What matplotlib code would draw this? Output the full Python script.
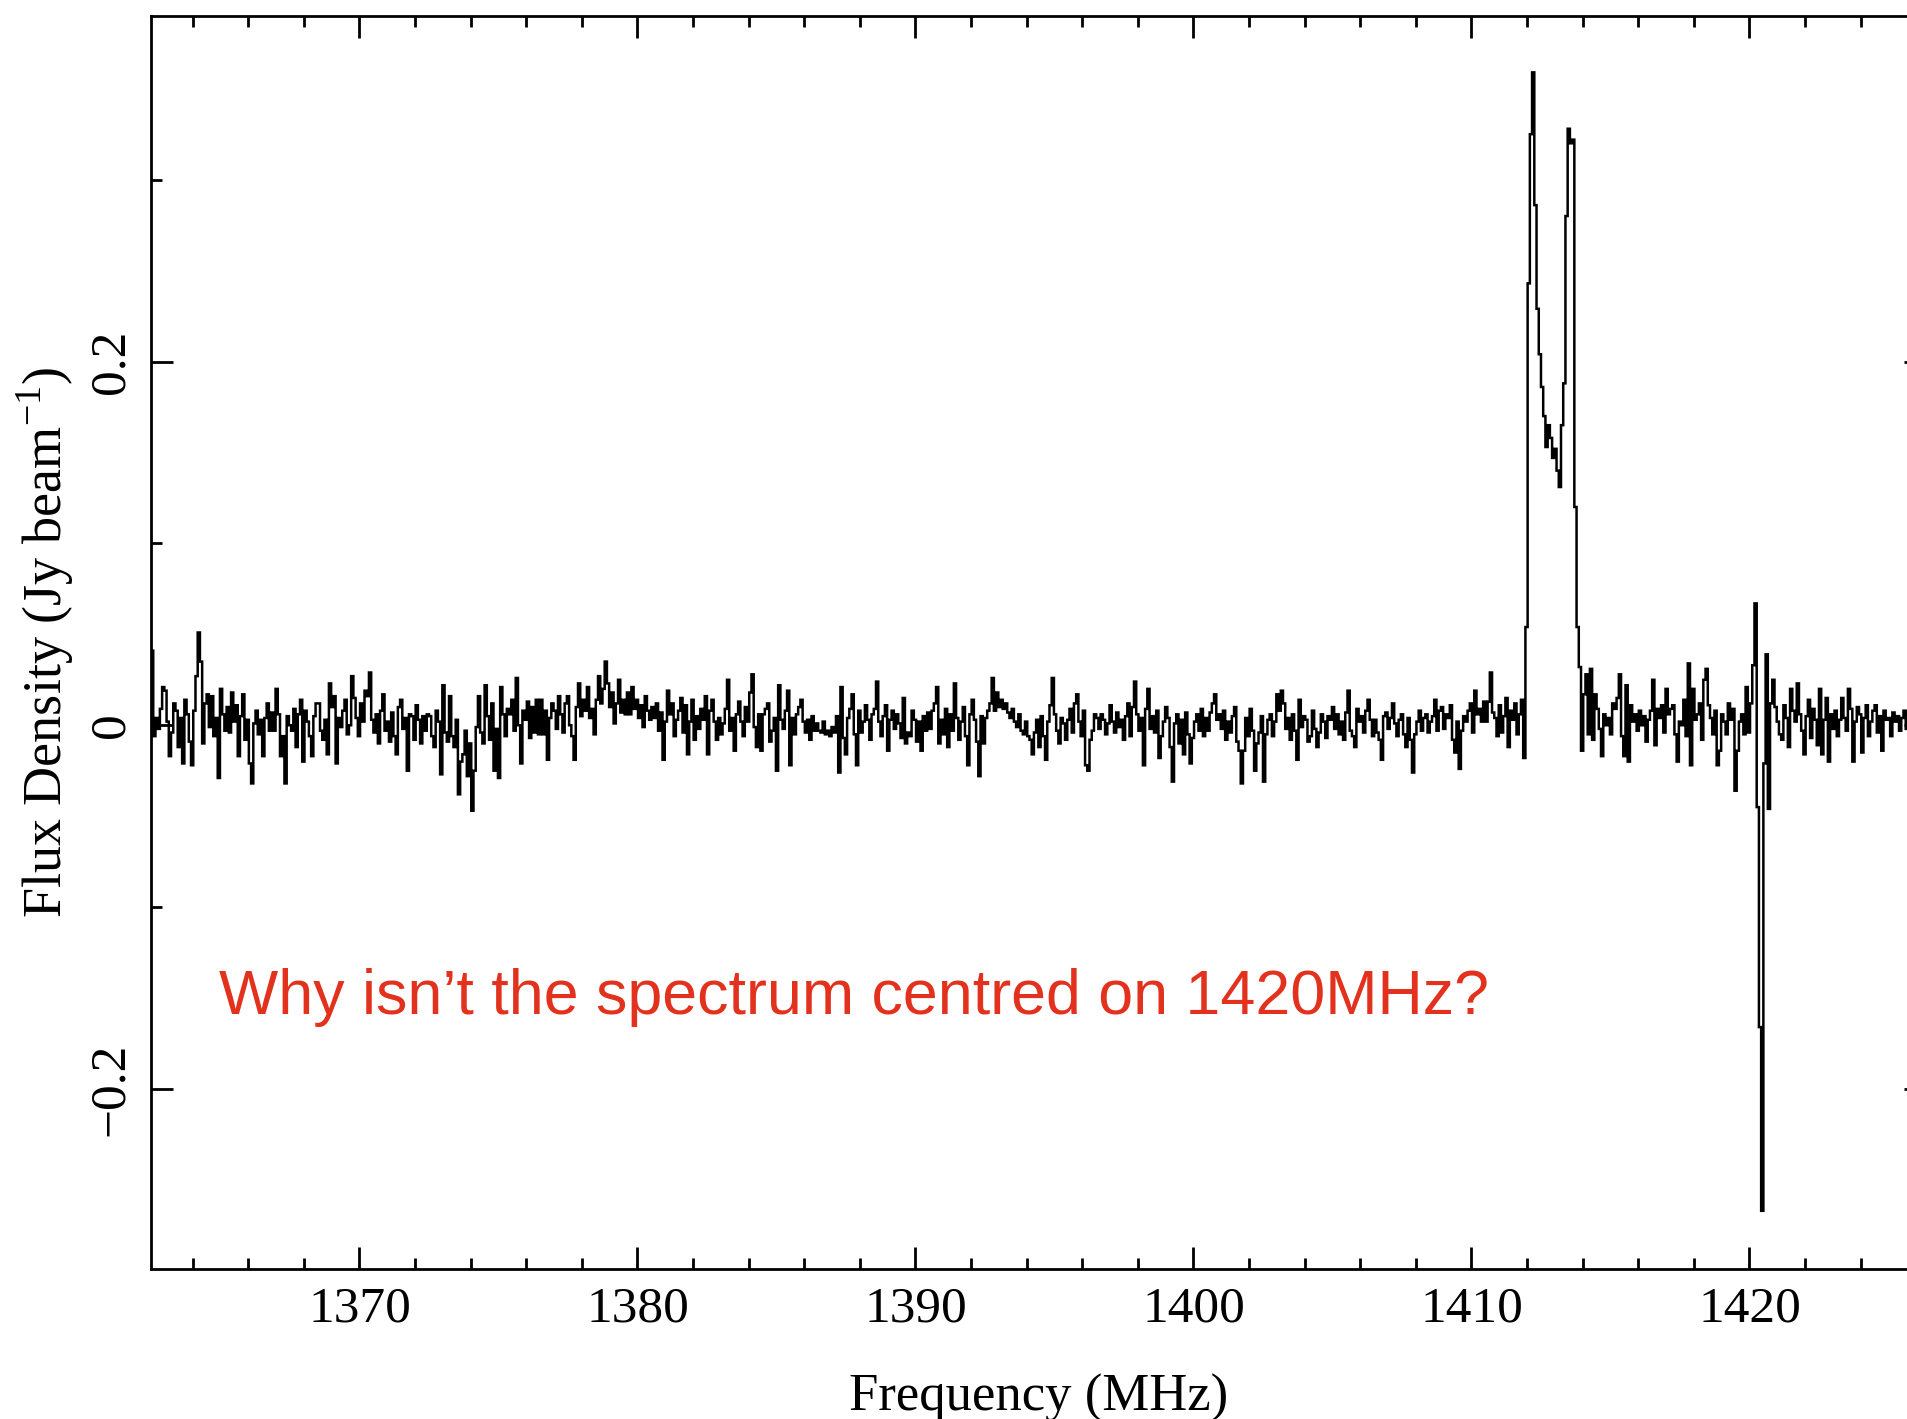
import numpy as np
import matplotlib
matplotlib.use('Agg')
import matplotlib.pyplot as plt
from matplotlib.ticker import MultipleLocator, FuncFormatter

# spectrum: channel grid (MHz)
freq_start = 1362.5
chan_width = 0.08

# flux density per channel, mJy/beam (25 channels = 2 MHz per row)
flux_mjy = [
    41, -6, 4, -2, 9, 21, 19, 2, -17, -4, 12, 8, -12, 4, -21, 14, 6, -9, -22, 8, 27, 51, 35, -10, 12,
    17, -1, 16, -6, 4, -29, 20, 6, -3, 10, -4, 18, 2, 11, -17, 5, 17, -8, 3, -21, -32, 1, 8, -5, 3,
    -17, 4, 12, -3, 7, -3, 20, 6, -17, -6, -32, 5, 0, -3, 9, -12, 6, 14, -20, 8, 2, -6, -17, 5, 12,
    12, -3, -8, 3, -16, 23, 10, 16, -21, 4, -1, 8, 14, -5, 0, 27, 15, 4, -6, 12, 2, 19, 16, 29, 3,
    -4, 6, -10, 8, 17, -3, 2, -9, 7, -6, -16, 10, 14, -2, 4, -25, 6, 5, -8, 11, 3, -10, 5, -3, 6,
    5, -6, -12, 8, 2, -27, 22, -4, -9, 16, -6, -12, 3, -38, -20, -16, -3, -28, -10, -47, -25, -1, 16, -4, -10,
    22, 5, -8, 12, -25, -2, -29, 21, 6, -6, 9, 6, 14, -3, 26, 0, -21, 8, 3, 13, -7, 10, -4, 14, -5,
    14, -5, 8, -19, 4, 12, 8, -2, 16, 6, -4, 12, 16, 0, -6, -19, 10, 23, 5, 14, 8, 21, 4, 9, -5,
    14, 27, 12, 20, 35, 23, 10, 18, 1, 12, 25, 7, 14, 6, 18, 6, 21, 9, 14, 4, 11, -1, 16, 8, 3,
    10, 4, 12, -3, 7, -19, 2, 19, 6, 12, -6, 3, 8, 15, -4, 11, -16, 2, 14, -8, 5, -2, 9, 3, 16,
    -16, 8, 14, 2, -8, 4, -5, 1, 9, 25, -3, 4, -14, 6, 13, 2, -6, 10, 2, 18, 28, -1, -12, 6, -14,
    6, 9, 12, -9, -3, 4, -25, 22, 3, -2, 8, 19, -22, 4, -5, 6, 10, 14, 2, -4, 3, -8, 5, -3, 1,
    -3, -4, 2, -5, -3, -6, -1, -4, 5, -26, 21, -7, -16, 4, 9, 17, -5, -22, 8, -4, 2, 11, 3, -8, 6,
    9, 24, 2, -6, 5, 11, -14, 3, 8, -2, 6, 1, -7, 15, -10, -4, -6, 8, 3, -9, 2, -14, 5, -3, 7,
    -2, 8, 12, 21, -10, 3, -5, 9, -12, 6, -3, 23, 4, -8, 2, 10, -6, -22, 6, 14, 3, -9, -28, 5, -10,
    4, 8, 12, 26, 8, 18, 10, 14, 9, 12, 7, 4, 9, 2, -1, 6, -3, -5, 2, -6, -8, -16, -4, 3, -12,
    5, -6, -19, 2, 11, 26, 6, -3, -10, 4, 1, -8, 3, 9, -4, 12, 17, 2, -6, 8, -22, -25, -8, -3, 6,
    4, -2, 6, 3, -5, 1, 11, 2, -4, 7, -1, 3, -8, 5, 12, -6, 10, 24, 6, -3, 4, -22, 9, 20, -2,
    5, -4, 8, -18, -6, 2, 10, 4, -12, -31, 1, 6, -10, 3, -16, 7, -5, -21, -7, 2, 6, -3, 9, -6, 4,
    -3, 7, 12, 17, 3, 6, -2, 8, -8, 2, -4, 5, 10, -9, -14, -32, -14, 4, -6, 9, -3, -25, -10, -4, 5,
    -31, -5, 3, 6, -6, 2, 17, 8, 19, 12, -2, 4, -8, 6, -3, -19, 14, -1, 5, 3, -9, -6, 8, -2, -12,
    -4, 6, 2, -7, 5, 3, 10, -2, 6, -5, 2, -8, 7, 19, -3, -6, -12, 9, 2, 5, -4, 8, 14, 3, -6,
    3, -4, -8, -19, 5, 7, -2, 4, 12, 1, -6, 3, 6, -5, -12, 4, -8, -26, -5, 2, 8, -3, 4, 6, -4,
    2, 5, 14, -3, 8, 10, -2, 6, 4, 11, -8, -15, 2, -24, -3, 5, 2, 8, 12, -4, 19, 6, 9, 2, 13,
    2, 13, 29, 7, 4, -6, 11, -4, 5, 15, -12, 8, 3, 12, -5, 6, 14, -18, 54, 243, 325, 359, 286, 229, 204,
    186, 170, 153, 165, 158, 147, 152, 140, 131, 165, 188, 280, 328, 320, 322, 120, 54, 32, -14, 17, 28, -5, 31, -8, 17,
    9, -2, -17, 6, 0, 4, -5, 12, 9, 15, 28, -6, -17, 22, -20, 11, 2, 6, -3, 8, 0, 5, -9, 3, 8,
    25, -11, 9, 4, 11, -4, 20, 6, 9, 11, -5, -20, 2, 0, 14, -6, 34, -22, 20, 3, 6, 12, -8, 25, 31,
    11, 4, -5, 8, -22, -14, 6, 2, -5, 12, 3, 9, -36, -14, 2, 6, -5, 21, -4, 12, 33, 67, -45, -166, -267,
    -21, 39, -46, 12, 25, 10, 2, -5, -8, 11, 4, -12, 20, 8, 2, 23, 6, -3, -16, 5, 14, -7, 9, 3, -11,
    20, -16, 3, 15, -20, 6, -2, 8, -6, 3, 15, 4, -3, 20, 9, -20, 2, 10, 6, -15, 4, 11, -6, 2, 8,
    11, -4, 5, -14, 8, 3, 4, -6, 7, 2, 5, -3, 4, 8, -2, 6, 3, -4, 5, 2, -5, 7, 1, -3, 4,
]

flux = np.array(flux_mjy) / 1000.0
edges = freq_start + chan_width * np.arange(len(flux) + 1)

plt.rcParams['font.family'] = 'Liberation Serif'
plt.rcParams['mathtext.fontset'] = 'custom'
plt.rcParams['mathtext.rm'] = 'Liberation Serif'
plt.rcParams['axes.linewidth'] = 2

W, H = 1908, 1419
fig = plt.figure(figsize=(W / 100, H / 100), dpi=100)
# the right-hand edge of the frame is cut off in the original
ax = fig.add_axes([151 / W, 1 - 1269 / H, (1926 - 151) / W, (1269 - 16) / H])

ax.stairs(flux, edges, color='black', linewidth=1.8)

ax.set_xlim(1362.5, 1426.35)
ax.set_ylim(-0.299, 0.39)

ax.xaxis.set_major_locator(MultipleLocator(10))
ax.xaxis.set_minor_locator(MultipleLocator(2))
ax.yaxis.set_major_locator(MultipleLocator(0.2))
ax.yaxis.set_minor_locator(MultipleLocator(0.1))
ax.yaxis.set_major_formatter(FuncFormatter(
    lambda v, p: '0' if abs(v) < 1e-9 else f'{v:.1f}'.replace('-', '\u2212')))

ax.tick_params(which='both', direction='in', top=True, right=True, width=2)
ax.tick_params(which='major', length=16)
ax.tick_params(which='minor', length=8)
ax.tick_params(axis='x', labelsize=37, pad=12)
ax.tick_params(axis='y', labelsize=37, pad=12)
for lab in ax.get_yticklabels():
    lab.set_rotation(90)
    lab.set_va('center')

fig.text(1039 / W, 1 - 1398 / H, 'Frequency (MHz)', fontsize=38,
         ha='center', va='center')
fig.text(45 / W, 1 - 642 / H, 'Flux Density (Jy beam$^{-1}$)', fontsize=39,
         ha='center', va='center', rotation=90)

# annotation
fig.text(219 / W, 1 - 1014 / H, 'Why isn\u2019t the spectrum centred on 1420MHz?',
         fontsize=45.2, color='#e2311d', family='Liberation Sans',
         ha='left', va='baseline')

fig.savefig('out.png', dpi=100)
